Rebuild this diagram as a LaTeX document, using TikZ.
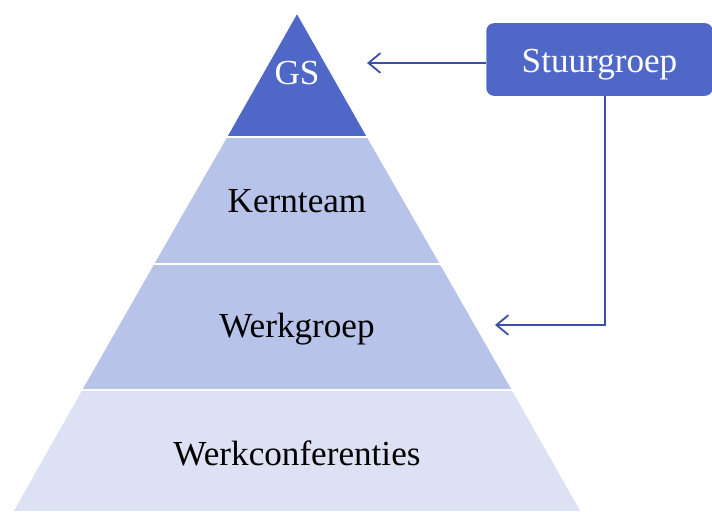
\documentclass[tikz,border=0pt]{standalone}
\usepackage{fontspec}
\setmainfont{Liberation Serif}
\usepackage{tikz}
\usetikzlibrary{positioning, arrows.meta}
\definecolor{gsblue}{HTML}{4F68C8}
\definecolor{midblue}{HTML}{B7C3E8}
\definecolor{paleblue}{HTML}{DCE1F4}
\definecolor{linkblue}{HTML}{3D4FAD}

\begin{document}
\begin{tikzpicture}[
    x=0.025cm, y=-0.025cm,
    layer/.style={draw=white, line width=1.4pt},
    lbl/.style={anchor=base, font=\fontsize{25}{30}\selectfont},
    box/.style={fill=gsblue, rounded corners=5.5pt, minimum width=161pt, minimum height=51.7pt,
                inner sep=0pt, text height=19pt, text depth=0pt,
                text=white, font=\fontsize{25}{30}\selectfont},
    arrow/.style={-{Straight Barb[length=8.5pt, width=14pt]}, draw=linkblue, line width=1.3pt}
]
\useasboundingbox (0,0) rectangle (712,512);

% pyramid layers
\fill[layer, fill=paleblue] (81,390) -- (513,390) -- (582,512) -- (12,512) -- cycle;
\fill[layer, fill=midblue]  (153,264) -- (441,264) -- (513,390) -- (81,390) -- cycle;
\fill[layer, fill=midblue]  (226,137) -- (368,137) -- (441,264) -- (153,264) -- cycle;
\fill[layer, fill=gsblue]   (297,12) -- (368,137) -- (226,137) -- cycle;
\draw[layer] (81,390) -- (513,390);
\draw[layer] (153,264) -- (441,264);
\draw[layer] (226,137) -- (368,137);

\node[lbl, text=white] (gs)   at (297,85)  {GS};
\node[lbl]             (kern) at (297,212) {Kernteam};
\node[lbl]             (werk) at (297,337) {Werkgroep};
\node[lbl]             (conf) at (297,465) {Werkconferenties};

\node[box] (stuur) at (599.5,59.5) {Stuurgroep};

\coordinate (gsin)   at (367,63);
\coordinate (bend)   at (605,325);
\coordinate (werkin) at (495,325);

\draw[arrow] (stuur.west |- gsin) -- (gsin);
\draw[arrow] (stuur.south -| bend) -- (bend) -- (werkin);
\end{tikzpicture}
\end{document}
